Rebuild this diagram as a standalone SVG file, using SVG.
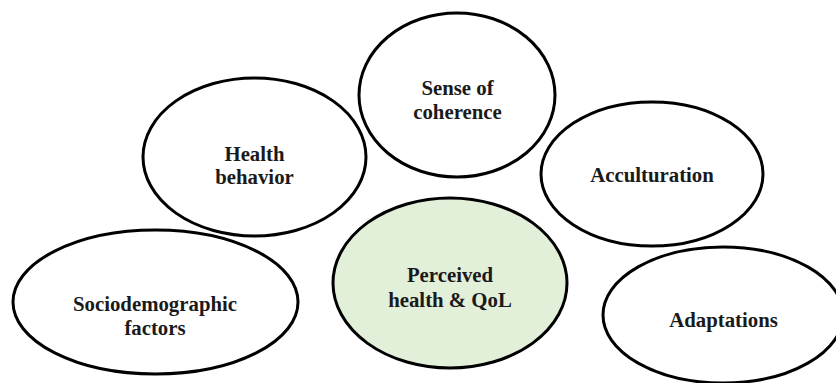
<svg xmlns="http://www.w3.org/2000/svg" width="836" height="383" viewBox="0 0 836 383">
  <style>
    .bubble { fill: #ffffff; stroke: #000000; stroke-width: 3; }
    .core { fill: #e2efd9; }
    .label { font-family: "Liberation Serif", "Times New Roman", serif; font-weight: bold; font-size: 20.8px; fill: #1a1a1a; text-anchor: middle; }
  </style>
  <rect width="836" height="383" fill="#ffffff"/>

  <!-- Factor bubbles around the central outcome -->
  <g id="sense-of-coherence">
    <ellipse class="bubble" cx="457" cy="95" rx="98" ry="82"/>
    <text class="label" x="457.5" y="95">Sense of</text>
    <text class="label" x="457.5" y="119">coherence</text>
  </g>

  <g id="health-behavior">
    <ellipse class="bubble" cx="254.5" cy="157" rx="111.5" ry="79"/>
    <text class="label" x="254.5" y="161">Health</text>
    <text class="label" x="254.5" y="184">behavior</text>
  </g>

  <g id="acculturation">
    <ellipse class="bubble" cx="652" cy="174" rx="111" ry="72"/>
    <text class="label" x="652" y="182">Acculturation</text>
  </g>

  <g id="perceived-health">
    <ellipse class="bubble core" cx="450" cy="283" rx="117" ry="85"/>
    <text class="label" x="450" y="282">Perceived</text>
    <text class="label" x="450" y="307">health &amp; QoL</text>
  </g>

  <g id="sociodemographic-factors">
    <ellipse class="bubble" cx="155.5" cy="302" rx="142.5" ry="72"/>
    <text class="label" x="155" y="311">Sociodemographic</text>
    <text class="label" x="155" y="335">factors</text>
  </g>

  <g id="adaptations">
    <ellipse class="bubble" cx="723" cy="315" rx="120" ry="68"/>
    <text class="label" x="723.5" y="327">Adaptations</text>
  </g>
</svg>
